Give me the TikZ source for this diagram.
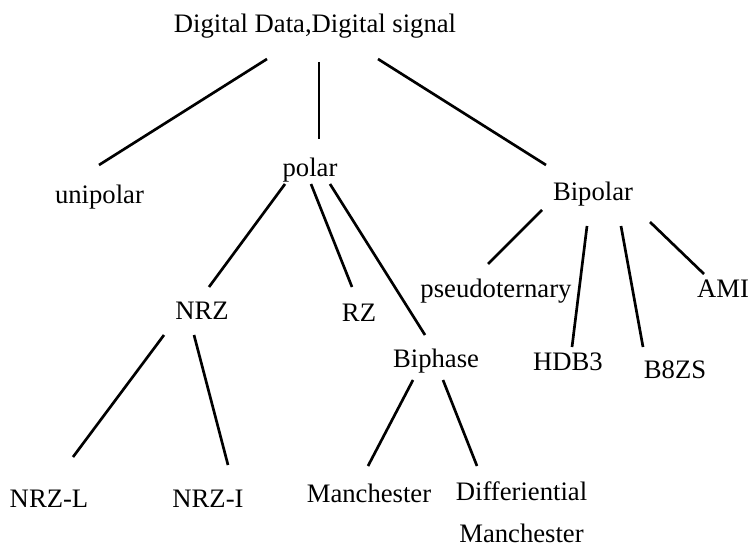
\documentclass[tikz,border=0pt]{standalone}
\usepackage{fontspec}
\setmainfont{Liberation Serif}
\begin{document}
\begin{tikzpicture}[x=0.75pt,y=-0.75pt,
  lbl/.style={inner sep=0pt,anchor=base,font=\fontsize{20}{24}\selectfont},
  link/.style={line width=2pt}]
\useasboundingbox (0,0) rectangle (748,545);
\node[lbl] (root) at (315,33) {Digital Data,Digital signal};
\node[lbl] (unipolar) at (99.5,204) {unipolar};
\node[lbl] (polar) at (310,176) {polar};
\node[lbl] (bipolar) at (593,200) {Bipolar};
\node[lbl] (pseudo) at (496,297) {pseudoternary};
\node[lbl] (ami) at (723,297) {AMI};
\node[lbl] (nrz) at (202,319) {NRZ};
\node[lbl] (rz) at (359,321) {RZ};
\node[lbl] (biphase) at (436,367) {Biphase};
\node[lbl] (hdb3) at (568,370) {HDB3};
\node[lbl] (b8zs) at (675,378) {B8ZS};
\node[lbl] (nrzl) at (49,507) {NRZ-L};
\node[lbl] (nrzi) at (208,507) {NRZ-I};
\node[lbl] (manch) at (369,502) {Manchester};
\node[lbl,anchor=north,align=center] (diff) at (521.5,481) {Differiential\\[8pt]Manchester};

\draw[link] ([shift={(-48,26)}]root.base) -- ([shift={(-0.5,-39)}]unipolar.base);
\draw[link] ([shift={(4,29)}]root.base) -- ([shift={(9,-37)}]polar.base);
\draw[link] ([shift={(63,26)}]root.base) -- ([shift={(-47,-35)}]bipolar.base);
\draw[link] ([shift={(-25,8)}]polar.base) -- ([shift={(7,-32)}]nrz.base);
\draw[link] ([shift={(1,8)}]polar.base) -- ([shift={(-7,-34)}]rz.base);
\draw[link] ([shift={(20,8)}]polar.base) -- ([shift={(-11,-32)}]biphase.base);
\draw[link] ([shift={(-51,10)}]bipolar.base) -- ([shift={(-8,-33)}]pseudo.base);
\draw[link] ([shift={(-6,26)}]bipolar.base) -- ([shift={(4,-23)}]hdb3.base);
\draw[link] ([shift={(28,26)}]bipolar.base) -- ([shift={(-32,-31)}]b8zs.base);
\draw[link] ([shift={(57,22)}]bipolar.base) -- ([shift={(-19,-23)}]ami.base);
\draw[link] ([shift={(-38,16)}]nrz.base) -- ([shift={(24,-50)}]nrzl.base);
\draw[link] ([shift={(-8,16)}]nrz.base) -- ([shift={(20,-42)}]nrzi.base);
\draw[link] ([shift={(-23,13)}]biphase.base) -- ([shift={(-1,-36)}]manch.base);
\draw[link] ([shift={(7,13)}]biphase.base) -- ([shift={(-44.5,-15)}]diff.north);
\end{tikzpicture}
\end{document}
